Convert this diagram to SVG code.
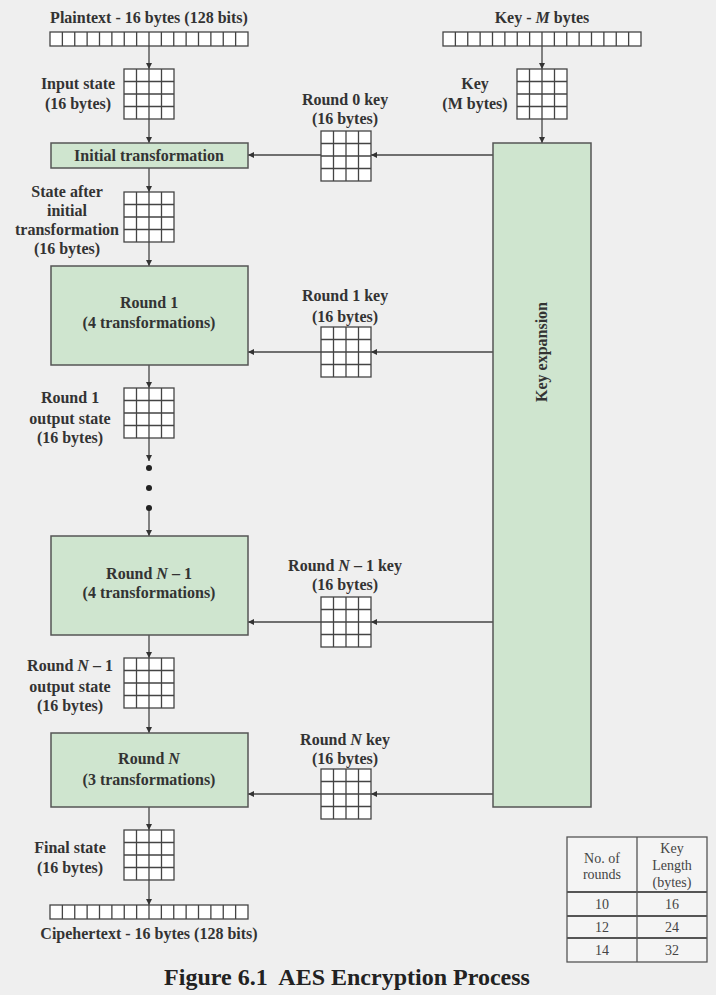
<svg xmlns="http://www.w3.org/2000/svg" xmlns:xlink="http://www.w3.org/1999/xlink" width="716" height="995" viewBox="0 0 716 995">
<style>
.lbl{font-family:"Liberation Serif","Times New Roman",serif;font-weight:bold;font-size:16px;fill:#333;text-anchor:middle}
.box{fill:#cfe5cf;stroke:#555;stroke-width:1.5}
.conn{stroke:#444;stroke-width:1.3;fill:none}
.gcell{fill:#fff;stroke:#444;stroke-width:1.3}
.tb{font-family:"Liberation Serif","Times New Roman",serif;font-size:14px;fill:#444;text-anchor:middle}
.tl{stroke:#555;fill:none}
.title{font-family:"Liberation Serif","Times New Roman",serif;font-weight:bold;font-size:24px;fill:#222;text-anchor:middle}
</style>
<defs>
<marker id="ah" viewBox="0 0 8 8" refX="8" refY="4" markerWidth="6" markerHeight="6" markerUnits="userSpaceOnUse" orient="auto">
<path d="M0,0 L8,4 L0,8 z" fill="#333"/>
</marker>
<g id="grid">
<rect x="0" y="0" width="50" height="50" class="gcell"/>
<path d="M12.5,0V50M25,0V50M37.5,0V50M0,12.5H50M0,25H50M0,37.5H50" stroke="#444" stroke-width="1.3"/>
</g>
<g id="bar">
<rect x="0" y="0" width="198" height="14" fill="#fff" stroke="#444" stroke-width="1.3"/>
<path d="M12.375,0v14M24.75,0v14M37.125,0v14M49.5,0v14M61.875,0v14M74.25,0v14M86.625,0v14M99,0v14M111.375,0v14M123.75,0v14M136.125,0v14M148.5,0v14M160.875,0v14M173.25,0v14M185.625,0v14" stroke="#444" stroke-width="1.3"/>
</g>
</defs>
<rect x="0" y="0" width="716" height="995" fill="#efefef"/>

<g id="connectors">
<line class="conn" x1="149" y1="46" x2="149" y2="69" marker-end="url(#ah)"/>
<line class="conn" x1="149" y1="119" x2="149" y2="143" marker-end="url(#ah)"/>
<line class="conn" x1="149" y1="168" x2="149" y2="192" marker-end="url(#ah)"/>
<line class="conn" x1="149" y1="242" x2="149" y2="266" marker-end="url(#ah)"/>
<line class="conn" x1="149" y1="365" x2="149" y2="388" marker-end="url(#ah)"/>
<line class="conn" x1="149" y1="438" x2="149" y2="461" marker-end="url(#ah)"/>
<line class="conn" x1="149" y1="508" x2="149" y2="536" marker-end="url(#ah)"/>
<line class="conn" x1="149" y1="635" x2="149" y2="658" marker-end="url(#ah)"/>
<line class="conn" x1="149" y1="708" x2="149" y2="733" marker-end="url(#ah)"/>
<line class="conn" x1="149" y1="807" x2="149" y2="830" marker-end="url(#ah)"/>
<line class="conn" x1="149" y1="880" x2="149" y2="905" marker-end="url(#ah)"/>
<line class="conn" x1="542" y1="46" x2="542" y2="69" marker-end="url(#ah)"/>
<line class="conn" x1="542" y1="119" x2="542" y2="143" marker-end="url(#ah)"/>
<line class="conn" x1="493" y1="155" x2="371" y2="155" marker-end="url(#ah)"/>
<line class="conn" x1="321" y1="155" x2="248" y2="155" marker-end="url(#ah)"/>
<line class="conn" x1="493" y1="352" x2="371" y2="352" marker-end="url(#ah)"/>
<line class="conn" x1="321" y1="352" x2="248" y2="352" marker-end="url(#ah)"/>
<line class="conn" x1="493" y1="622" x2="371" y2="622" marker-end="url(#ah)"/>
<line class="conn" x1="321" y1="622" x2="248" y2="622" marker-end="url(#ah)"/>
<line class="conn" x1="493" y1="794" x2="371" y2="794" marker-end="url(#ah)"/>
<line class="conn" x1="321" y1="794" x2="248" y2="794" marker-end="url(#ah)"/>
<circle cx="149" cy="468" r="3" fill="#222"/>
<circle cx="149" cy="488" r="3" fill="#222"/>
<circle cx="149" cy="508" r="3" fill="#222"/>
</g>

<g id="plaintext">
<text class="lbl" x="149" y="23">Plaintext - 16 bytes (128 bits)</text>
<use xlink:href="#bar" href="#bar" x="50" y="32"/>
</g>
<g id="key-bytes">
<text class="lbl" x="542" y="23">Key - <tspan font-style="italic">M</tspan> bytes</text>
<use xlink:href="#bar" href="#bar" x="443" y="32"/>
</g>
<g id="input-state">
<use xlink:href="#grid" href="#grid" x="124" y="69"/>
<text class="lbl" x="78" y="89">Input state</text>
<text class="lbl" x="78" y="109">(16 bytes)</text>
</g>
<g id="key-state">
<use xlink:href="#grid" href="#grid" x="517" y="69"/>
<text class="lbl" x="475" y="89">Key</text>
<text class="lbl" x="475" y="109">(M bytes)</text>
</g>
<g id="round0-key">
<text class="lbl" x="345" y="105">Round 0 key</text>
<text class="lbl" x="345" y="124">(16 bytes)</text>
<use xlink:href="#grid" href="#grid" x="321" y="131"/>
</g>
<g id="initial-transformation">
<rect class="box" x="51" y="143" width="197" height="25"/>
<text class="lbl" x="149" y="161">Initial transformation</text>
</g>
<g id="state-after-initial">
<use xlink:href="#grid" href="#grid" x="124" y="192"/>
<text class="lbl" x="67" y="197">State after</text>
<text class="lbl" x="67" y="216">initial</text>
<text class="lbl" x="67" y="235">transformation</text>
<text class="lbl" x="67" y="254">(16 bytes)</text>
</g>
<g id="round1">
<rect class="box" x="51" y="266" width="197" height="99"/>
<text class="lbl" x="149" y="308">Round 1</text>
<text class="lbl" x="149" y="328">(4 transformations)</text>
</g>
<g id="round1-key">
<text class="lbl" x="345" y="301">Round 1 key</text>
<text class="lbl" x="345" y="322">(16 bytes)</text>
<use xlink:href="#grid" href="#grid" x="321" y="327"/>
</g>
<g id="round1-output">
<use xlink:href="#grid" href="#grid" x="124" y="388"/>
<text class="lbl" x="70" y="403">Round 1</text>
<text class="lbl" x="70" y="424">output state</text>
<text class="lbl" x="70" y="443">(16 bytes)</text>
</g>
<g id="roundN-1">
<rect class="box" x="51" y="536" width="197" height="99"/>
<text class="lbl" x="149" y="579">Round <tspan font-style="italic">N</tspan> – 1</text>
<text class="lbl" x="149" y="598">(4 transformations)</text>
</g>
<g id="roundN-1-key">
<text class="lbl" x="345" y="571">Round <tspan font-style="italic">N</tspan> – 1 key</text>
<text class="lbl" x="345" y="590">(16 bytes)</text>
<use xlink:href="#grid" href="#grid" x="321" y="597"/>
</g>
<g id="roundN-1-output">
<use xlink:href="#grid" href="#grid" x="124" y="658"/>
<text class="lbl" x="70" y="671">Round <tspan font-style="italic">N</tspan> – 1</text>
<text class="lbl" x="70" y="692">output state</text>
<text class="lbl" x="70" y="711">(16 bytes)</text>
</g>
<g id="roundN">
<rect class="box" x="51" y="733" width="197" height="74"/>
<text class="lbl" x="149" y="764">Round <tspan font-style="italic">N</tspan></text>
<text class="lbl" x="149" y="785">(3 transformations)</text>
</g>
<g id="roundN-key">
<text class="lbl" x="345" y="745">Round <tspan font-style="italic">N</tspan> key</text>
<text class="lbl" x="345" y="764">(16 bytes)</text>
<use xlink:href="#grid" href="#grid" x="321" y="769"/>
</g>
<g id="final-state">
<use xlink:href="#grid" href="#grid" x="124" y="830"/>
<text class="lbl" x="70" y="853">Final state</text>
<text class="lbl" x="70" y="873">(16 bytes)</text>
</g>
<g id="ciphertext">
<use xlink:href="#bar" href="#bar" x="50" y="905"/>
<text class="lbl" x="149" y="939">Cipehertext - 16 bytes (128 bits)</text>
</g>
<g id="key-expansion">
<rect class="box" x="493" y="143" width="98" height="664"/>
<text class="lbl" x="0" y="0" transform="translate(547,352) rotate(-90)">Key expansion</text>
</g>
<g id="rounds-table">
<rect x="567" y="837" width="140" height="125" fill="#f4f4f4" stroke="#555" stroke-width="1.3"/>
<line class="tl" x1="637" y1="837" x2="637" y2="962" stroke-width="1.3"/>
<line class="tl" x1="567" y1="892" x2="707" y2="892" stroke-width="2"/>
<line class="tl" x1="567" y1="916" x2="707" y2="916" stroke-width="2"/>
<line class="tl" x1="567" y1="938" x2="707" y2="938" stroke-width="2"/>
<text class="tb" x="602" y="863">No. of</text>
<text class="tb" x="602" y="879">rounds</text>
<text class="tb" x="672" y="853">Key</text>
<text class="tb" x="672" y="870">Length</text>
<text class="tb" x="672" y="887">(bytes)</text>
<text class="tb" x="602" y="909">10</text>
<text class="tb" x="672" y="909">16</text>
<text class="tb" x="602" y="932">12</text>
<text class="tb" x="672" y="932">24</text>
<text class="tb" x="602" y="955">14</text>
<text class="tb" x="672" y="955">32</text>
</g>
<g id="caption">
<text class="title" x="347" y="985" xml:space="preserve">Figure 6.1  AES Encryption Process</text>
</g>
</svg>
